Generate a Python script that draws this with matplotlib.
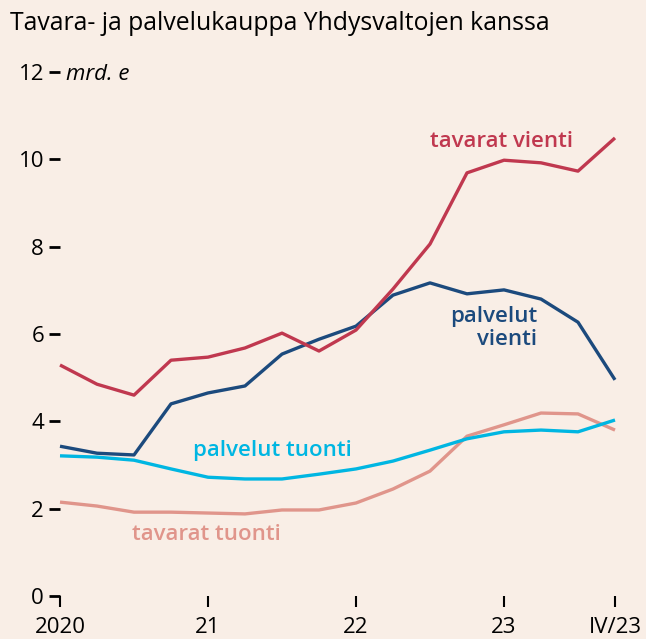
import matplotlib
matplotlib.use("Agg")
import matplotlib.pyplot as plt
import numpy as np

# quarterly values 2020 Q1 .. 2023 Q4, billion euros
quarters = np.arange(16)
tavarat_vienti = [5.29, 4.85, 4.60, 5.40, 5.47, 5.68, 6.02, 5.61,
                  6.09, 7.03, 8.06, 9.69, 9.98, 9.92, 9.73, 10.49]
palvelut_vienti = [3.43, 3.27, 3.23, 4.40, 4.65, 4.81, 5.54, 5.88,
                   6.18, 6.89, 7.17, 6.92, 7.01, 6.80, 6.27, 4.95]
palvelut_tuonti = [3.21, 3.18, 3.11, 2.91, 2.72, 2.68, 2.68, 2.79,
                   2.91, 3.09, 3.34, 3.60, 3.76, 3.80, 3.76, 4.03]
tavarat_tuonti = [2.15, 2.06, 1.92, 1.92, 1.90, 1.88, 1.97, 1.97,
                  2.13, 2.45, 2.86, 3.66, 3.92, 4.19, 4.17, 3.80]

xtick_pos = [0, 4, 8, 12, 15]
xtick_labels = ["2020", "21", "22", "23", "IV/23"]
ytick_pos = [0, 2, 4, 6, 8, 10, 12]

bg = "#f9eee6"
c_tv = "#c0384f"
c_pv = "#1c4a7d"
c_pt = "#00b6e2"
c_tt = "#e0958b"

plt.rcParams["font.family"] = ["Open Sans", "DejaVu Sans"]

fig = plt.figure(figsize=(6.46, 6.39), dpi=100, facecolor=bg)
ax = fig.add_axes([60 / 646, 43 / 639, 555 / 646, 524 / 639])
ax.set_facecolor(bg)

lw = 2.4
ax.plot(quarters, tavarat_tuonti, color=c_tt, lw=lw, clip_on=False, solid_capstyle="butt")
ax.plot(quarters, palvelut_tuonti, color=c_pt, lw=lw, clip_on=False, solid_capstyle="butt")
ax.plot(quarters, palvelut_vienti, color=c_pv, lw=lw, clip_on=False, solid_capstyle="butt")
ax.plot(quarters, tavarat_vienti, color=c_tv, lw=lw, clip_on=False, solid_capstyle="butt")

ax.set_xlim(0, 15)
ax.set_ylim(0, 12)
for s in ax.spines.values():
    s.set_visible(False)

ax.set_xticks(xtick_pos)
ax.set_xticklabels(xtick_labels, fontsize=16)
ax.set_yticks(ytick_pos)
ax.set_yticklabels([str(v) for v in ytick_pos], fontsize=16)
ax.tick_params(axis="x", direction="out", length=8, width=1.5, pad=7, color="black")
ax.tick_params(axis="y", direction="out", length=8, width=2, pad=3.5, color="black")

# series labels
fs = 16
ax.text(11.92, 10.28, "tavarat vienti", color=c_tv, fontsize=fs, fontweight="semibold",
        ha="center", va="baseline")
ax.text(12.89, 6.27, "palvelut", color=c_pv, fontsize=fs, fontweight="semibold",
        ha="right", va="baseline")
ax.text(12.89, 5.75, "vienti", color=c_pv, fontsize=fs, fontweight="semibold",
        ha="right", va="baseline")
ax.text(3.59, 3.21, "palvelut tuonti", color=c_pt, fontsize=fs, fontweight="semibold",
        ha="left", va="baseline")
ax.text(1.95, 1.28, "tavarat tuonti", color=c_tt, fontsize=fs, fontweight="semibold",
        ha="left", va="baseline")

ax.text(0.16, 12, "mrd. e", fontsize=16, style="italic", ha="left", va="center_baseline")
fig.text(10 / 646, 1 - 30 / 639, "Tavara- ja palvelukauppa Yhdysvaltojen kanssa",
         fontsize=17.8, ha="left", va="baseline")

fig.savefig("out.png", dpi=100, facecolor=bg)
